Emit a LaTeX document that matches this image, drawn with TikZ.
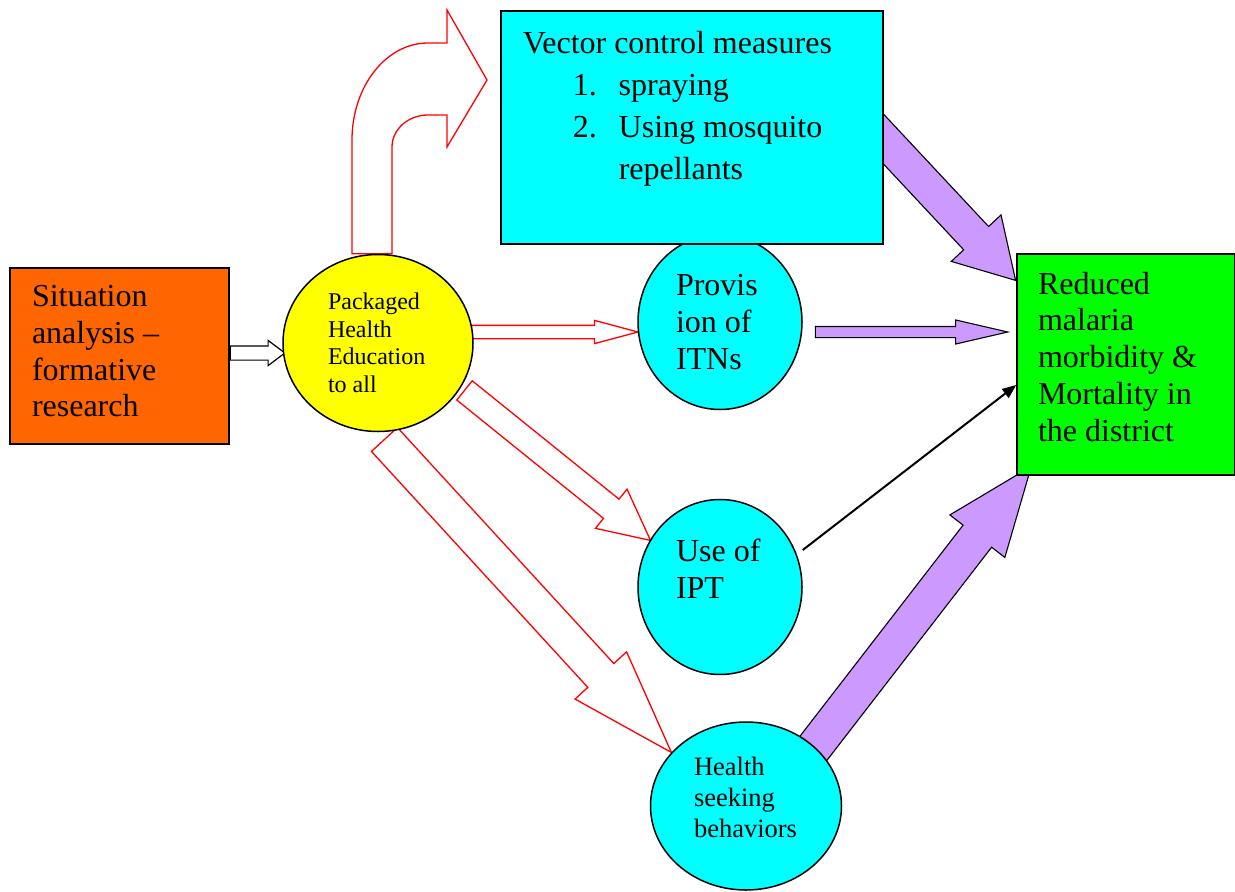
\documentclass[tikz,border=0pt]{standalone}
\usepackage{fontspec}
\setmainfont{Liberation Serif}
\usetikzlibrary{shapes.geometric,shapes.arrows,calc,backgrounds,arrows.meta}
\definecolor{orng}{HTML}{FF6600}
\definecolor{cyn}{HTML}{00FFFF}
\definecolor{yel}{HTML}{FFFF00}
\definecolor{grn}{HTML}{00FF00}
\definecolor{purp}{HTML}{CC99FF}
% block arrow from one point to another
\newcommand\blockarrow[3]{%
  \path let \p1=(#2), \p2=(#3), \n1={atan2(\y2-\y1,\x2-\x1)}, \n2={veclen(\x2-\x1,\y2-\y1)} in
    node[single arrow, anchor=tail, rotate=\n1, minimum height=\n2, #1] at (\p1) {};}
\begin{document}
\begin{tikzpicture}[x=1pt,y=-1pt,
  every node/.style={inner sep=0pt, line width=1.5pt},
  big/.style={font=\fontsize{32}{36.8}\selectfont},
  small/.style={font=\fontsize{24}{27.5}\selectfont},
  box/.style={draw, rectangle, align=flush left},
  circ/.style={draw, ellipse, fill=cyn, align=flush left},
  redblk/.style={draw=red, fill=white, line width=1.3pt},
  purblk/.style={draw=black, fill=purp, line width=1.1pt}
]
\useasboundingbox (0,0) rectangle (1235,892);
\node[box, big, fill=orng, minimum width=219, minimum height=176, text width=175, text depth=120pt] (sit) at (119.5,356) {Situation\\analysis --\\formative\\research};
\node[draw, ellipse, fill=yel, small, align=flush left, minimum width=190, minimum height=177, text width=100] (pack) at (378,343) {Packaged\\Health\\Education\\to all};
\node[circ, big, minimum width=164, minimum height=175, text width=88] (prov) at (720,322) {Provis\\ion of\\ITNs};
\node[circ, big, minimum width=164, minimum height=175, text width=88, text depth=74pt] (ipt) at (720,587) {Use of\\IPT};
\node[circ, font=\fontsize{26.5}{31}\selectfont, minimum width=191, minimum height=168, text width=104, text depth=80pt] (health) at (746,806) {Health\\seeking\\behaviors};
\node[box, fill=cyn, minimum width=382, minimum height=233] (vec) at (692,127.5) {};
\node[anchor=north west, align=flush left, font=\fontsize{32}{42}\selectfont] (vectxt) at (522,31)
  {Vector control measures\\
   \hspace*{50pt}\makebox[46pt][l]{1.}spraying\\
   \hspace*{50pt}\makebox[46pt][l]{2.}Using mosquito\\
   \hspace*{96pt}repellants};
\node[box, big, fill=grn, minimum width=218, minimum height=221, text width=176, text depth=163pt] (goal) at (1126,364.5) {Reduced\\malaria\\morbidity \&\\Mortality in\\the district};

\begin{pgfonlayer}{background}
% bent arrow up to the vector control box
\draw[redblk] ([xshift=-26pt]pack.north) -- (352,140)
  arc[start angle=180, end angle=270, x radius=76, y radius=97] -- (447,43) -- (447,10)
  -- (487,80) -- (447,147) -- (447,115) -- (428,115)
  arc[start angle=270, end angle=180, x radius=36, y radius=32] -- ([xshift=14pt]pack.north) -- cycle;
\blockarrow{draw, fill=white, line width=1.2pt, inner ysep=6.5pt, single arrow head extend=5.5pt, single arrow tip angle=74}{$(sit.east)+(0,-3)$}{$(pack.west)+(2,10)$}
\blockarrow{redblk, inner ysep=6pt, single arrow head extend=5pt, single arrow tip angle=30}{$(pack.east)+(-3,-11)$}{$(prov.west)+(0,10)$}
\blockarrow{redblk, inner ysep=11.7pt, single arrow head extend=12.8pt, single arrow tip angle=53}{$(pack.center)+(86,47)$}{$(ipt.center)+(-70,-47)$}
\blockarrow{redblk, inner ysep=17pt, single arrow head extend=17.3pt, single arrow tip angle=37}{$(pack.center)+(6,96)$}{$(health.center)+(-75,-54)$}
% purple arrows into the goal box
\blockarrow{purblk, inner ysep=16.5pt, single arrow head extend=17pt, single arrow tip angle=61}{$(vec.east)+(-33,-23.5)$}{$(goal.west)+(-1,-84.5)$}
\blockarrow{purblk, inner ysep=5pt, single arrow head extend=6.5pt, single arrow tip angle=26}{$(prov.east)+(12,10)$}{$(goal.west)+(-9,-32.5)$}
\blockarrow{purblk, inner ysep=17.5pt, single arrow head extend=16.7pt, single arrow tip angle=43}{$(health.center)+(46,-30)$}{$(goal.south)+(-95,-9)$}
\draw[line width=2pt, -{Triangle[length=14pt,width=11pt]}] ($(ipt.east)+(0,-37)$) -- ($(goal.west)+(0,20.5)$);
\end{pgfonlayer}
\end{tikzpicture}
\end{document}
